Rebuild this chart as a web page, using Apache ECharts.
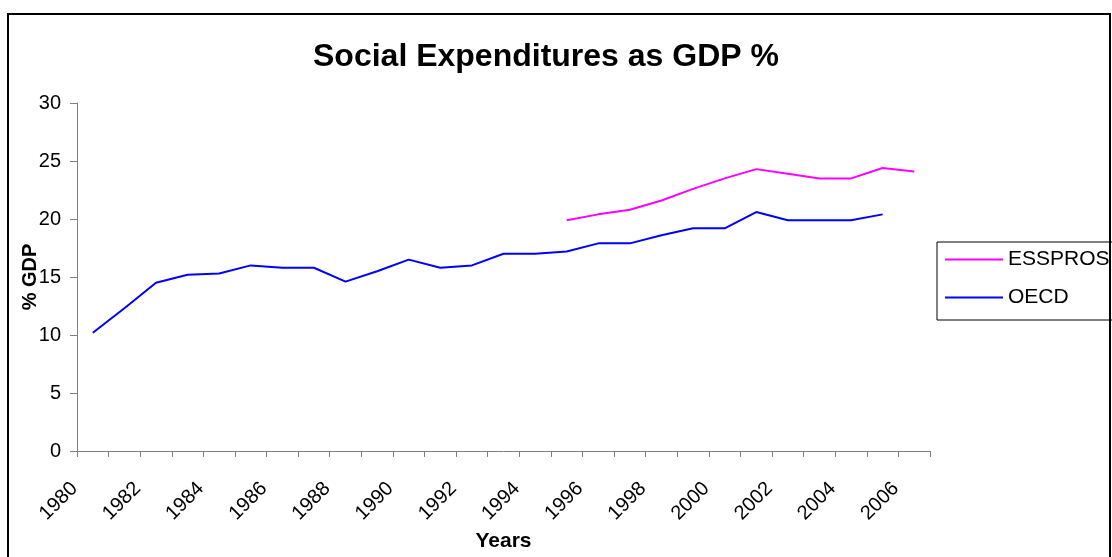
<!DOCTYPE html>
<html>
<head>
<meta charset="utf-8">
<title>Social Expenditures as GDP %</title>
<script src="https://cdn.jsdelivr.net/npm/echarts@6/dist/echarts.min.js"></script>
<style>
  html, body { margin: 0; padding: 0; background: #fff; }
  #chart { width: 1112px; height: 557px; }
</style>
</head>
<body>
<div id="chart"></div>
<script>
// Years on the horizontal axis
const years = [
  '1980','1981','1982','1983','1984','1985','1986','1987','1988','1989',
  '1990','1991','1992','1993','1994','1995','1996','1997','1998','1999',
  '2000','2001','2002','2003','2004','2005','2006'
];

// Social expenditures, % of GDP (ESSPROS series starts in 1995)
const essprosValues = [
  null, null, null, null, null, null, null, null, null, null,
  null, null, null, null, null, 19.9, 20.4, 20.8, 21.6, 22.6,
  23.5, 24.3, 23.9, 23.5, 23.5, 24.4, 24.1
];

// OECD series ends in 2005
const oecdValues = [
  10.2, 12.3, 14.5, 15.2, 15.3, 16.0, 15.8, 15.8, 14.6, 15.5,
  16.5, 15.8, 16.0, 17.0, 17.0, 17.2, 17.9, 17.9, 18.6, 19.2,
  19.2, 20.6, 19.9, 19.9, 19.9, 20.4, null
];

const yTicks = { min: 0, max: 30, step: 5 };

const font = 'Arial, "Liberation Sans", sans-serif';
const axisGrey = '#808080';

const chart = echarts.init(document.getElementById('chart'));

chart.setOption({
  backgroundColor: '#ffffff',
  animation: false,
  title: {
    text: 'Social Expenditures as GDP %',
    left: 313,
    top: 41,
    padding: 0,
    textStyle: { fontFamily: font, fontSize: 32, fontWeight: 'bold', color: '#000' }
  },
  legend: {
    orient: 'vertical',
    left: 937,
    top: 242,
    padding: [7, 8, 12, 8],
    icon: 'rect',
    itemWidth: 58,
    itemHeight: 2,
    itemGap: 17,
    itemTextGap: 7,
    borderColor: '#000',
    borderWidth: 1,
    backgroundColor: '#fff',
    textStyle: { fontFamily: font, fontSize: 21, color: '#000' },
    data: ['ESSPROS', 'OECD']
  },
  grid: {
    left: 77,
    right: 182,
    top: 103,
    bottom: 102,
    containLabel: false
  },
  xAxis: {
    type: 'category',
    data: years,
    boundaryGap: true,
    name: 'Years',
    nameLocation: 'middle',
    nameGap: 80,
    nameMoveOverlap: false,
    nameTextStyle: { fontFamily: font, fontSize: 21, fontWeight: 'bold', color: '#000' },
    axisLine: { lineStyle: { color: axisGrey, width: 1 } },
    axisTick: { show: true, interval: 0, length: 6, lineStyle: { color: axisGrey } },
    axisLabel: {
      interval: 1,
      rotate: 45,
      margin: 16,
      padding: [0, 26, 0, 0],
      fontFamily: font,
      fontSize: 20,
      color: '#000'
    },
    splitLine: { show: false }
  },
  yAxis: {
    type: 'value',
    min: yTicks.min,
    max: yTicks.max,
    interval: yTicks.step,
    name: '% GDP',
    nameLocation: 'middle',
    nameGap: 37,
    nameMoveOverlap: false,
    nameRotate: 90,
    nameTextStyle: { fontFamily: font, fontSize: 20, fontWeight: 'bold', color: '#000' },
    axisLine: { show: true, lineStyle: { color: axisGrey, width: 1 } },
    axisTick: { show: true, length: 7, lineStyle: { color: axisGrey } },
    axisLabel: { margin: 16, fontFamily: font, fontSize: 20, color: '#000' },
    splitLine: { show: false }
  },
  series: [
    {
      name: 'ESSPROS',
      type: 'line',
      data: essprosValues,
      symbol: 'none',
      connectNulls: false,
      color: '#ff00ff',
      lineStyle: { color: '#ff00ff', width: 2 }
    },
    {
      name: 'OECD',
      type: 'line',
      data: oecdValues,
      symbol: 'none',
      connectNulls: false,
      color: '#0000ff',
      lineStyle: { color: '#0000ff', width: 2 }
    }
  ],
  graphic: [
    {
      type: 'rect',
      z: 100,
      silent: true,
      shape: { x: 8, y: 14, width: 1102, height: 600 },
      style: { fill: 'none', stroke: '#000', lineWidth: 2 }
    }
  ]
});
</script>
</body>
</html>
